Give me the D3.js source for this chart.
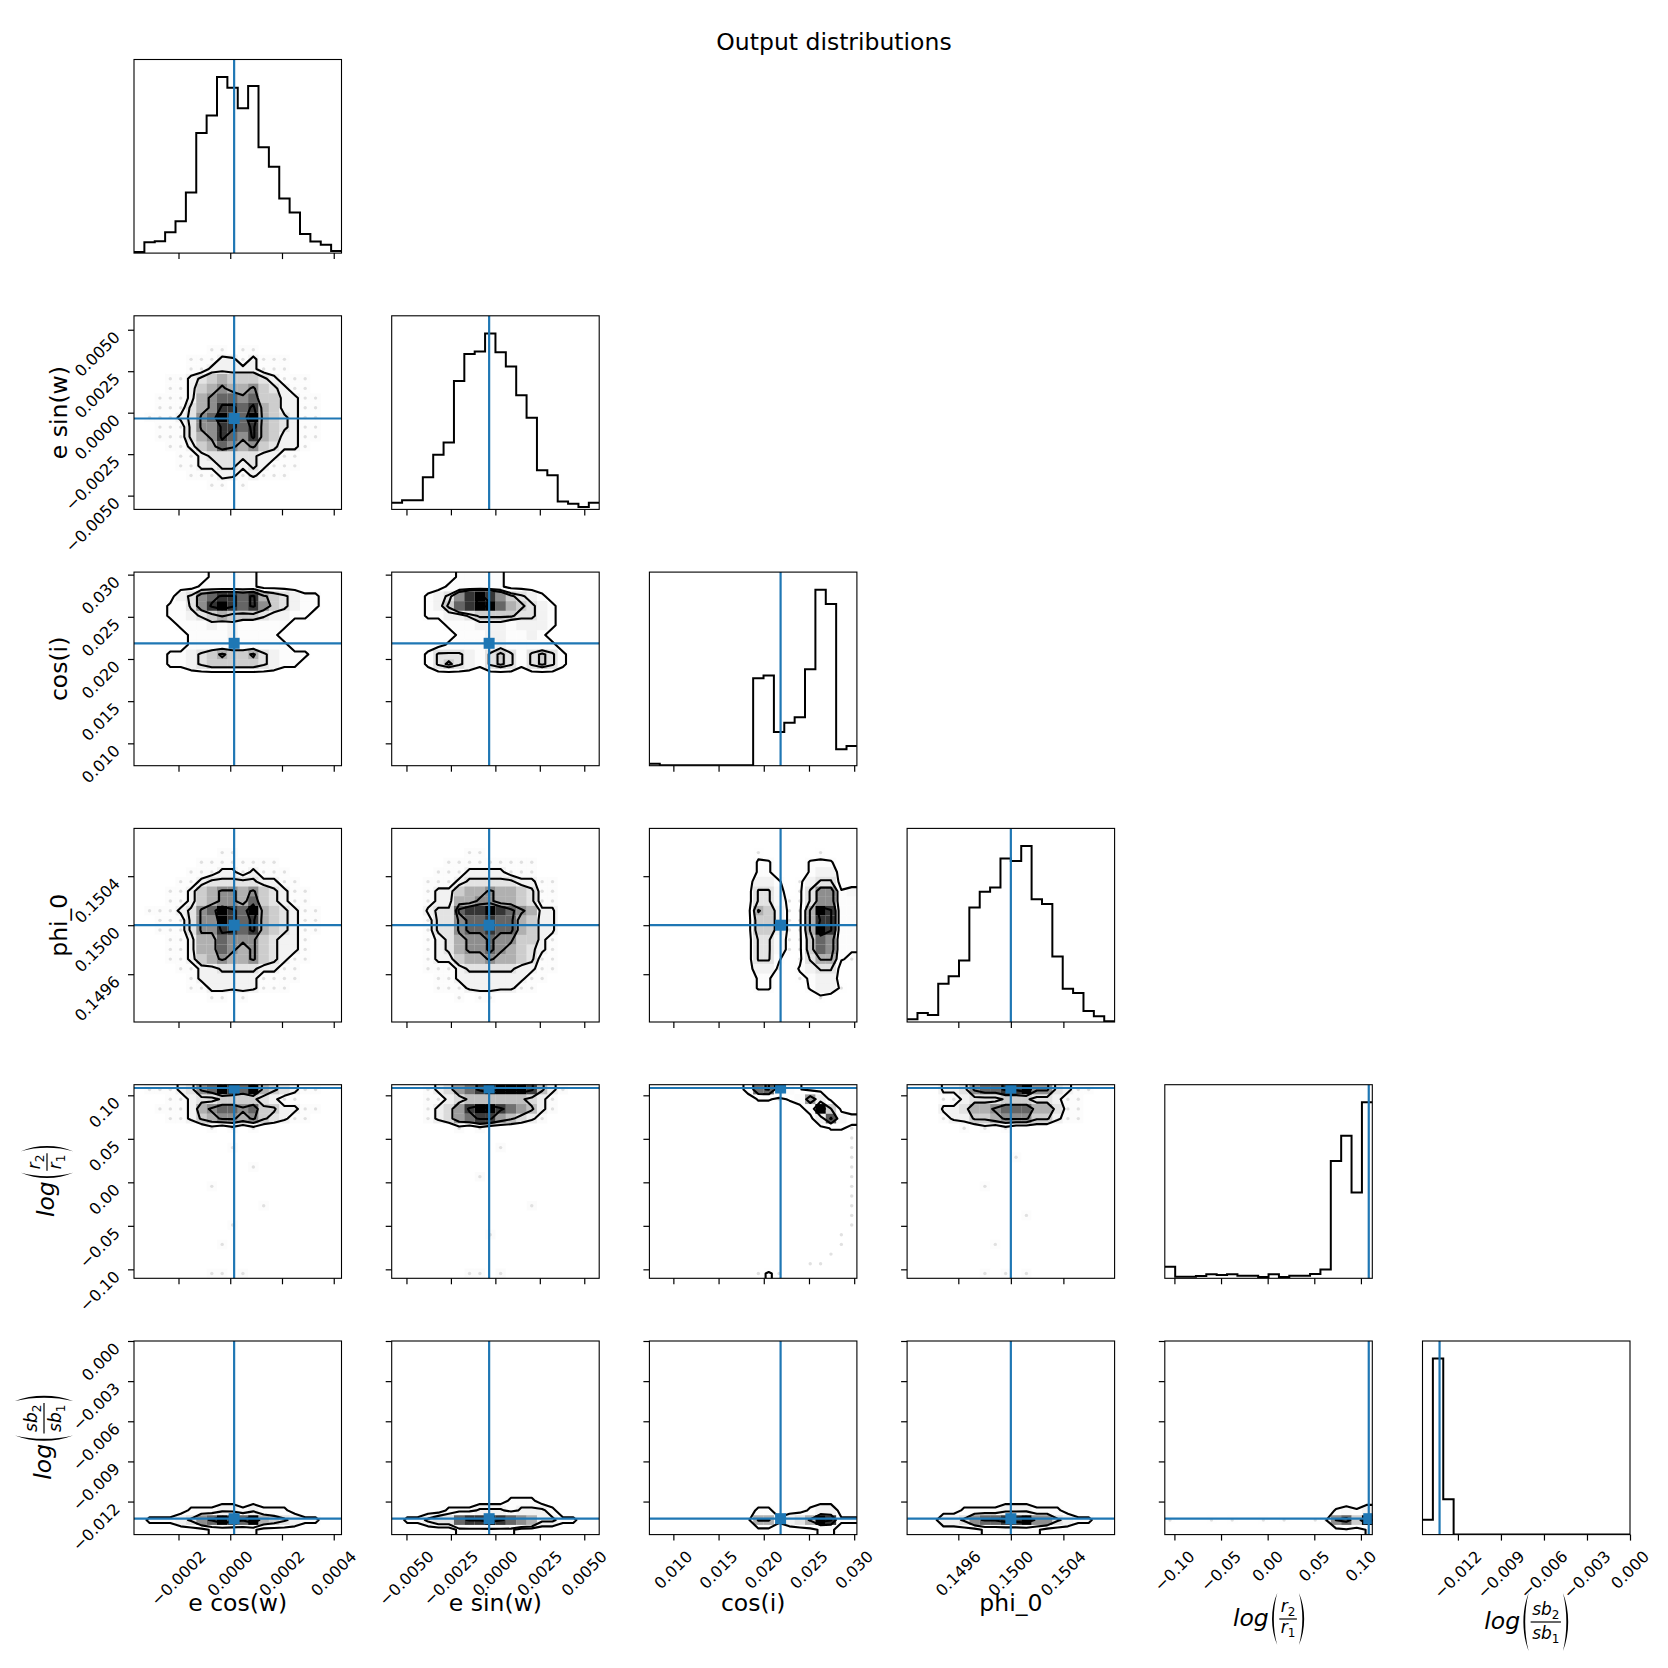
<!DOCTYPE html>
<html lang="en">
<head>
<meta charset="UTF-8">
<title>Output distributions</title>
<script src="https://d3js.org/d3.v7.min.js"></script>
<style>
  body { margin: 0; background: #fff; }
  text { font-family: "DejaVu Sans", sans-serif; fill: #000; }
</style>
</head>
<body>
<script>
// ---- parameters: labels, plot ranges, truth values, ticks ----
const labels = ["e cos(w)", "e sin(w)", "cos(i)", "phi_0", { base: "r" }, { base: "sb" }];
const ranges = [[-0.000372, 0.000430], [-0.00583, 0.00584], [0.00735, 0.0303],
                [0.14921, 0.15079], [-0.1103, 0.1122], [-0.01447, 0.0]];
const truths = [0.000015, -0.00035, 0.02186, 0.15000, 0.1084, -0.01328];
const ticks = [[-0.0002, 0, 0.0002, 0.0004],
               [-0.005, -0.0025, 0, 0.0025, 0.005],
               [0.010, 0.015, 0.020, 0.025, 0.030],
               [0.1496, 0.1500, 0.1504],
               [-0.10, -0.05, 0, 0.05, 0.10],
               [-0.012, -0.009, -0.006, -0.003, 0]];
const tickFormats = [".4f", ".4f", ".3f", ".4f", ".2f", ".3f"];

// ---- 1D histograms (20 bins over each range) ----
const hist_ecosw = [3, 33, 36, 63, 96, 183, 363, 416, 532, 500, 438, 505, 320, 261, 165, 123, 58, 35, 25, 6];
const hist_esinw = [20, 28, 28, 97, 165, 202, 388, 470, 477, 532, 475, 432, 345, 277, 118, 103, 24, 17, 7, 20];
const hist_cosi  = [6, 1, 1, 1, 1, 1, 1, 1, 1, 1, 265, 273, 102, 130, 147, 292, 533, 490, 50, 60];
const hist_phi0  = [8, 27, 21, 115, 138, 185, 345, 392, 405, 492, 485, 530, 370, 355, 197, 100, 87, 33, 17, 2];
const hist_logr  = [35, 5, 5, 7, 12, 10, 12, 8, 8, 4, 12, 4, 8, 8, 13, 27, 355, 432, 260, 533];
const hist_logsb = [45, 532, 107, 0, 0, 0, 0, 0, 0, 0, 0, 0, 0, 0, 0, 0, 0, 0, 0, 0];
const hists = [hist_ecosw, hist_esinw, hist_cosi, hist_phi0, hist_logr, hist_logsb];

// ---- 2D histograms: row index from top (high y) -> counts per x bin (base 36 digits) ----
const grid_esinw_ecosw = {
  3: "00000001101100000000", 4: "00000111221211100000", 5: "00000112222211100000",
  6: "00011234544432111000", 7: "00011245655643211000", 8: "00111256776744221100",
  9: "00111356887854221100", 10: "01112367987954321100", 11: "00111366887854321100",
  12: "00111356876854221100", 13: "00011245765643221000", 14: "00001123333322110000",
  15: "00001122332321110000", 16: "00000111221211100000", 17: "00000001101000000000"
};
const grid_cosi_ecosw = {
  0: "00000001111100000000", 1: "00000011111100000000", 2: "00002367887854321100",
  3: "00011368987864321100", 4: "00011234544432211000", 5: "00001112121111100000",
  6: "00000111121111000000", 7: "00000111111111100000", 8: "00011234544532111000",
  9: "00011234444432110000"
};
const grid_cosi_esinw = {
  0: "00000011111000000000", 1: "00000111111000000000", 2: "00012368986432100000",
  3: "00012478997543210000", 4: "00011223444433210000", 5: "00000111222122210000",
  6: "00000011122112100000", 7: "00000111112111110000", 8: "00013332134313431000",
  9: "00013432134313431000"
};
const grid_phi0_ecosw = {
  2: "00000000110000000000", 3: "00000011111111000000", 4: "00000111221211100000",
  5: "00001123333322110000", 6: "00011245665643211000", 7: "00011245665743211000",
  8: "01112367987954321100", 9: "00111366987854321100", 10: "00111366887854321100",
  11: "00011255766643221000", 12: "00011255765643221000", 13: "00011245655643211000",
  14: "00001122333322110000", 15: "00000122222211110000", 16: "00000112222211100000",
  17: "00000001101000000000"
};
const grid_phi0_esinw = {
  2: "00000001100000000000", 3: "00000111111111000000", 4: "00001112222111000000",
  5: "00011123333322110000", 6: "00012245565543110000", 7: "00012255665543110000",
  8: "00023378898765220000", 9: "00013367787754220000", 10: "00013367787754220000",
  11: "00012356676644210000", 12: "00012356676543210000", 13: "00012245565543110000",
  14: "00011123333322110000", 15: "00001122222221100000", 16: "00001112222211000000",
  17: "00000010110000000000"
};
const grid_phi0_cosi = {
  2: "00000000001000001000", 3: "00000000002200022200", 4: "00000000002200024400",
  5: "00000000004420146600", 6: "0000000000663016cc23", 7: "0000000000663116cc22",
  8: "0000000000a8411aig22", 9: "000000000088411agg22", 10: "000000000088411aig22",
  11: "0000000000663118ec22", 12: "0000000000663118ec22", 13: "0000000000662016aa21",
  14: "00000000004410246600", 15: "00000000002200124400", 16: "00000000002200024410",
  17: "00000000000000001000"
};
const grid_logr_ecosw = {
  0: "01112367987954321100", 1: "00011233444432110000", 2: "00111256776744221100",
  3: "00011245665643211000", 4: "00000001010100000000", 6: "00000000010000000000",
  8: "00000000000100000000", 10: "00000001000000000000", 12: "00000000000010000000",
  14: "00000000010000000000", 16: "00000000100000000000", 19: "00000001101000000000"
};
const grid_logr_esinw = {
  0: "00012356788887421000", 1: "00011234444443210000", 2: "00012357887654210000",
  3: "00012356775432100000", 4: "00000010100000000000", 6: "00000000001000000000",
  9: "00000000100000000000", 12: "00000000000001000000", 15: "00000000010000000000",
  19: "00000001101000000000"
};
const grid_logr_cosi = {
  0: "0000000003op64200000", 1: "000000000022124k8000", 2: "0000000000000004we00",
  3: "00000000000000008q63", 4: "00000000000000000221", 5: "00000000000000000001",
  6: "00000000000000000001", 7: "00000000000000000001", 8: "00000000000000000001",
  9: "00000000000000000001", 10: "00000000000000000001", 11: "00000000000000000001",
  12: "00000000000000000001", 13: "00000000000000000001", 14: "00000000000000000001",
  15: "00000000000000000010", 16: "00000000000000000010", 17: "00000000000000000100",
  18: "00000000000000011000", 19: "00000000001210000000"
};
const grid_logr_phi0 = {
  0: "00022367788966321100", 1: "00011233344433211000", 2: "00022355677755311000",
  3: "00012244566644211000", 4: "00000101010000000000", 7: "00000000001000000000",
  10: "00000001000000000000", 13: "00000000000100000000", 16: "00000000100000000000",
  19: "00000001010100000000"
};
const grid_logsb_ecosw = {
  17: "00000111221211100000", 18: "01112367987954321100", 19: "00000001111100000000"
};
const grid_logsb_esinw = {
  16: "00000000000111000000", 17: "00000111222122210000", 18: "01123378898765221100",
  19: "00000011111100000000"
};
const grid_logsb_cosi = {
  17: "00000000001100012200", 18: "00000000005512359811", 19: "00000000000000001100"
};
const grid_logsb_phi0 = {
  17: "00000111122211100000", 18: "00022367788966321100", 19: "00000001111110000000"
};
const grid_logsb_logr = {
  17: "00000000000000002324", 18: "1000101001010011ce8i", 19: "00000000000000000102"
};
const grids2d = {
  "1,0": grid_esinw_ecosw,
  "2,0": grid_cosi_ecosw, "2,1": grid_cosi_esinw,
  "3,0": grid_phi0_ecosw, "3,1": grid_phi0_esinw, "3,2": grid_phi0_cosi,
  "4,0": grid_logr_ecosw, "4,1": grid_logr_esinw, "4,2": grid_logr_cosi, "4,3": grid_logr_phi0,
  "5,0": grid_logsb_ecosw, "5,1": grid_logsb_esinw, "5,2": grid_logsb_cosi,
  "5,3": grid_logsb_phi0, "5,4": grid_logsb_logr
};

// ---- layout ----
const K = 6, NB = 20;
const left0 = 134, colStep = 257.7, pw = 207.5;
const top0 = 59.5, rowStep = 256.3, ph = 193.6;
const tickFs = 16, labelFs = 23.5;
const blue = "#1f77b4";
const sigmaLevels = [0.5, 1, 1.5, 2].map(s => 1 - Math.exp(-0.5 * s * s));

const svg = d3.select("body").append("svg")
  .attr("width", 1668).attr("height", 1668);

svg.append("defs").append("clipPath").attr("id", "panel-clip")
  .append("rect").attr("width", pw).attr("height", ph);

svg.append("text")
  .attr("x", 834).attr("y", 50)
  .attr("text-anchor", "middle")
  .attr("font-size", labelFs)
  .text("Output distributions");

function parseGrid(rows) {
  const H = [];
  for (let i = 0; i < NB; i++) {
    const s = rows[i] || "0".repeat(NB);
    H.push(Array.from(s, ch => parseInt(ch, 36)));
  }
  return H;
}

// contour levels the way corner.py picks them (mass enclosed)
function cornerLevels(H) {
  const flat = H.flat().sort((a, b) => b - a);
  const total = d3.sum(flat);
  let cum = 0;
  const sm = flat.map(v => (cum += v) / total);
  const V = sigmaLevels.map(v0 => {
    let val = flat[0];
    for (let k = 0; k < flat.length; k++) if (sm[k] <= v0) val = flat[k];
    return val - 0.3;
  });
  V.sort((a, b) => a - b);
  for (let k = V.length - 2; k >= 0; k--) if (V[k] >= V[k + 1]) V[k] = V[k + 1] - 0.2;
  return V;
}

function padGrid(H) {
  const M = NB + 4;
  const P = Array.from({ length: M }, () => new Array(M).fill(0));
  for (let i = 0; i < NB; i++) for (let j = 0; j < NB; j++) P[i + 2][j + 2] = H[i][j];
  for (let i = 0; i < NB; i++) { P[i + 2][1] = H[i][0]; P[i + 2][M - 2] = H[i][NB - 1]; }
  for (let j = 0; j < NB; j++) { P[1][j + 2] = H[0][j]; P[M - 2][j + 2] = H[NB - 1][j]; }
  P[1][1] = H[0][0]; P[1][M - 2] = H[0][NB - 1];
  P[M - 2][1] = H[NB - 1][0]; P[M - 2][M - 2] = H[NB - 1][NB - 1];
  return P.flat();
}

// returns true when the label is a math (fraction) label
function drawLabel(g, lab) {
  if (typeof lab === "string") {
    g.append("text").attr("font-size", labelFs).text(lab);
    return false;
  }
  // log( base_2 / base_1 ) in mathtext style
  const logT = g.append("text").attr("font-size", labelFs).attr("font-style", "italic").text("log");
  let x = logT.node().getComputedTextLength() + 1.5;
  const ay = -6.5;
  const half = lab.base === "sb" ? 29 : 26;
  const pwid = 7;
  const paren = (x0, dir) => {
    const xa = dir > 0 ? x0 + pwid : x0;
    const xb = dir > 0 ? x0 : x0 + pwid;
    const xi = xb + dir * 2.4;
    const t = ay - half, b = ay + half, h = half * 2;
    return `M${xa},${t} C${xb},${t + 0.3 * h} ${xb},${b - 0.3 * h} ${xa},${b} ` +
           `C${xi},${b - 0.3 * h} ${xi},${t + 0.3 * h} ${xa},${t} Z`;
  };
  g.append("path").attr("d", paren(x, 1)).attr("fill", "#000");
  x += pwid + 2;
  const part = (sub) => {
    const t = g.append("text").attr("font-size", 17);
    t.append("tspan").attr("font-style", "italic").text(lab.base);
    t.append("tspan").attr("font-size", 12).attr("dy", 4).text(sub);
    return t;
  };
  const num = part("2"), den = part("1");
  const wn = num.node().getComputedTextLength(), wd = den.node().getComputedTextLength();
  const fw = Math.max(wn, wd) + 3;
  num.attr("x", x + (fw - wn) / 2).attr("y", ay - 7);
  den.attr("x", x + (fw - wd) / 2).attr("y", ay + (lab.base === "sb" ? 17 : 13.5));
  g.append("line").attr("x1", x).attr("x2", x + fw).attr("y1", ay).attr("y2", ay)
    .attr("stroke", "#000").attr("stroke-width", 1.2);
  x += fw + 2;
  g.append("path").attr("d", paren(x, -1)).attr("fill", "#000");
  return true;
}

for (let r = 0; r < K; r++) {
  for (let c = 0; c <= r; c++) {
    const g = svg.append("g")
      .attr("transform", `translate(${left0 + c * colStep},${top0 + r * rowStep})`);
    const xs = d3.scaleLinear().domain(ranges[c]).range([0, pw]);
    const inner = g.append("g").attr("clip-path", "url(#panel-clip)");
    const [xlo, xhi] = ranges[c];
    const dx = (xhi - xlo) / NB;
    let ys;

    if (r === c) {
      const counts = hists[c];
      ys = d3.scaleLinear().domain([0, 1.1 * d3.max(counts)]).range([ph, 0]);
      const pts = [];
      counts.forEach((n, i) => { pts.push([xlo + i * dx, n]); pts.push([xlo + (i + 1) * dx, n]); });
      inner.append("path")
        .attr("d", d3.line().x(d => xs(d[0])).y(d => ys(d[1]))(pts))
        .attr("fill", "none").attr("stroke", "#000").attr("stroke-width", 2);
      inner.append("line")
        .attr("x1", xs(truths[c])).attr("x2", xs(truths[c]))
        .attr("y1", 0).attr("y2", ph)
        .attr("stroke", blue).attr("stroke-width", 2.2);
    } else {
      ys = d3.scaleLinear().domain(ranges[r]).range([ph, 0]);
      const [ylo, yhi] = ranges[r];
      const dy = (yhi - ylo) / NB;
      const H = parseGrid(grids2d[`${r},${c}`]);
      const hmax = d3.max(H.flat());
      const V = cornerLevels(H);
      const contours = d3.contours().size([NB + 4, NB + 4]).thresholds(V)(padGrid(H));
      const path = d3.geoPath(d3.geoTransform({
        point(u, v) { this.stream.point(xs(xlo + (u - 2) * dx), ys(yhi - (v - 2) * dy)); }
      }));

      // sparse samples outside the outer contour
      H.forEach((row, i) => row.forEach((h, j) => {
        if (h > 0 && h < V[0]) {
          inner.append("circle")
            .attr("cx", xs(xlo + (j + 0.5) * dx)).attr("cy", ys(yhi - (i + 0.5) * dy))
            .attr("r", 1.7).attr("fill", "#000").attr("fill-opacity", 0.12);
        }
      }));
      // white base under the outer contour
      inner.append("path").attr("d", path(contours[0])).attr("fill", "#fff");
      // density cells: black -> transparent white
      H.forEach((row, i) => row.forEach((h, j) => {
        if (h <= 0) return;
        const t = (hmax - h) / hmax;
        const x0 = xs(xlo + j * dx), x1 = xs(xlo + (j + 1) * dx);
        const y0 = ys(yhi - i * dy), y1 = ys(yhi - (i + 1) * dy);
        inner.append("rect")
          .attr("x", x0).attr("y", y0).attr("width", x1 - x0).attr("height", y1 - y0)
          .attr("fill", d3.rgb(255 * t, 255 * t, 255 * t))
          .attr("fill-opacity", 1 - t);
      }));
      // contour lines
      inner.selectAll("path.cl").data(contours).join("path")
        .attr("class", "cl").attr("d", path)
        .attr("fill", "none").attr("stroke", "#000").attr("stroke-width", 2.1)
        .attr("stroke-linejoin", "round");
      // truth cross + marker
      const tx = xs(truths[c]), ty = ys(truths[r]);
      inner.append("line").attr("x1", tx).attr("x2", tx).attr("y1", 0).attr("y2", ph)
        .attr("stroke", blue).attr("stroke-width", 2.2);
      inner.append("line").attr("x1", 0).attr("x2", pw).attr("y1", ty).attr("y2", ty)
        .attr("stroke", blue).attr("stroke-width", 2.2);
      inner.append("rect").attr("x", tx - 5.5).attr("y", ty - 5.5)
        .attr("width", 11).attr("height", 11).attr("fill", blue);

      // y ticks
      const ay = g.append("g")
        .call(d3.axisLeft(ys).tickValues(ticks[r]).tickSize(6).tickSizeOuter(0).tickFormat(""));
      ay.select(".domain").remove();
      ay.selectAll(".tick line").attr("stroke", "#000").attr("stroke-width", 1.2);
      if (c === 0) {
        const fmt = d3.format(tickFormats[r]);
        ticks[r].forEach(v => {
          g.append("text").attr("font-size", tickFs).attr("text-anchor", "end")
            .attr("transform", `translate(-13,${ys(v) + 8.5}) rotate(-45)`)
            .text(fmt(v));
        });
      }
    }

    // x ticks
    const ax = g.append("g").attr("transform", `translate(0,${ph})`)
      .call(d3.axisBottom(xs).tickValues(ticks[c]).tickSize(6).tickSizeOuter(0).tickFormat(""));
    ax.select(".domain").remove();
    ax.selectAll(".tick line").attr("stroke", "#000").attr("stroke-width", 1.2);
    if (r === K - 1) {
      const fmt = d3.format(tickFormats[c]);
      ticks[c].forEach(v => {
        const t = g.append("text").attr("font-size", tickFs)
          .attr("text-anchor", "middle").attr("dominant-baseline", "central").text(fmt(v));
        const w = t.node().getComputedTextLength();
        const off = (w + 0.73 * tickFs) / (2 * Math.SQRT2);
        t.attr("transform", `translate(${xs(v)},${ph + 15 + off}) rotate(-45)`);
      });
    }

    // spines
    g.append("rect").attr("width", pw).attr("height", ph)
      .attr("fill", "none").attr("stroke", "#000").attr("stroke-width", 1.1);
  }
}

// axis labels: bottom row (x) and left column (y)
for (let c = 0; c < K; c++) {
  const lg = svg.append("g");
  const isMath = drawLabel(lg, labels[c]);
  const bb = lg.node().getBBox();
  const cx = left0 + c * colStep + pw / 2;
  const ty = isMath ? 1593 - bb.y : 1611;
  lg.attr("transform", `translate(${cx - bb.x - bb.width / 2},${ty})`);
}
for (let r = 1; r < K; r++) {
  const lg = svg.append("g");
  drawLabel(lg, labels[r]);
  const bb = lg.node().getBBox();
  const cy = top0 + r * rowStep + ph / 2;
  const tx = 73 - (bb.y + bb.height);
  const ty = cy + bb.x + bb.width / 2;
  lg.attr("transform", `translate(${tx},${ty}) rotate(-90)`);
}
</script>
</body>
</html>
